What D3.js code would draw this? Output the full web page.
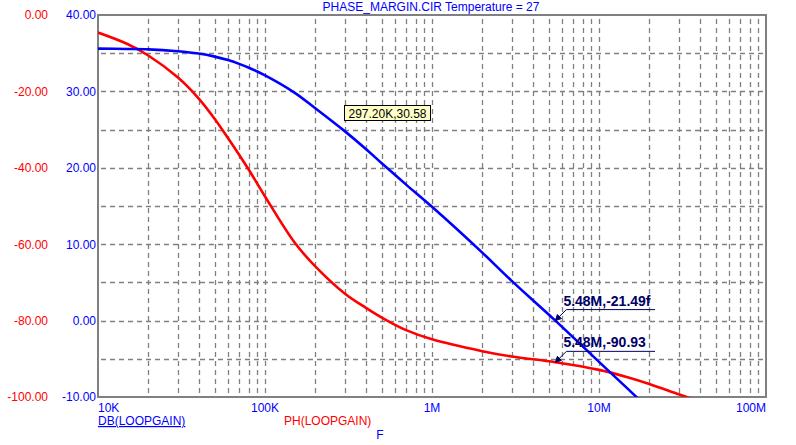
<!DOCTYPE html>
<html>
<head>
<meta charset="utf-8">
<script src="https://cdn.jsdelivr.net/npm/d3@7"></script>
<style>
  body { margin: 0; background: #fff; }
  text { font-family: "Liberation Sans", Arial, sans-serif; }
</style>
</head>
<body>
<div id="chart"></div>
<script>
// frequency points (Hz) shared by both traces
var freqs = [1e4, 1.5e4, 2e4, 3e4, 4e4, 5e4, 6e4, 7e4, 8e4, 1e5, 1.5e5, 2e5, 3e5, 4e5, 5e5, 7e5,
  1e6, 2e6, 3e6, 5.48e6, 1e7, 1.5e7, 2e7, 3e7, 4e7];
// DB(LOOPGAIN)
var gainDb = [35.6, 35.55, 35.5, 35.25, 34.95, 34.55, 34.1, 33.6, 33.1, 32.1, 29.85, 27.8, 24.8, 22.5, 20.6, 17.8,
  14.9, 8.9, 5.2, 0.0, -5.4, -9.0, -11.6, -15.4, -18.0];
// PH(LOOPGAIN)
var phaseDeg = [-4.6, -7.6, -10.6, -16.3, -21.8, -27.2, -32.2, -36.6, -40.5, -47.5, -59.5, -65.8, -72.9, -76.6, -79.2, -82.5,
  -84.9, -88.0, -89.4, -90.9, -92.9, -94.9, -96.6, -99.3, -101.2];

var dbTicks = [40, 30, 20, 10, 0, -10];
var phTicks = [0, -20, -40, -60, -80, -100];
var xTicks = [1e4, 1e5, 1e6, 1e7, 1e8];
var xTickLabels = ["10K", "100K", "1M", "10M", "100M"];

var W = 796, H = 445,
  pL = 98, pR = 766, pT = 15, pB = 397;

var svg = d3.select("#chart").append("svg")
  .attr("width", W)
  .attr("height", H);

var x = d3.scaleLog().domain([1e4, 1e8]).range([pL, pR]),
  yDb = d3.scaleLinear().domain([-10, 40]).range([pB, pT]),
  yPh = d3.scaleLinear().domain([-100, 0]).range([pB, pT]);

var fmt = d3.formatLocale({decimal: ".", thousands: ",", grouping: [3], currency: ["", ""], minus: "-"}).format(".2f");

svg.append("defs").append("clipPath").attr("id", "plotclip")
  .append("rect")
  .attr("x", pL).attr("y", pT)
  .attr("width", pR - pL).attr("height", pB - pT);

//网格
var vGrid = [];
[1e4, 1e5, 1e6, 1e7].forEach(function (dec) {
  for (var m = 1; m < 10; m++) {
    if (dec * m > 1e4) vGrid.push(dec * m);
  }
});

var grid = svg.append("g")
  .attr("stroke", "#808080")
  .attr("stroke-width", 1.3)
  .attr("stroke-dasharray", "5,4");

grid.selectAll("line.v")
  .data(vGrid)
  .enter().append("line")
  .attr("class", "v")
  .attr("x1", function (d) { return Math.round(x(d)) + 0.5; })
  .attr("x2", function (d) { return Math.round(x(d)) + 0.5; })
  .attr("y1", pT + 4)
  .attr("y2", pB);

grid.selectAll("line.h")
  .data(d3.range(-5, 40, 5))
  .enter().append("line")
  .attr("class", "h")
  .attr("x1", pL + 3)
  .attr("x2", pR)
  .attr("y1", function (d) { return Math.round(yDb(d)) + 0.5; })
  .attr("y2", function (d) { return Math.round(yDb(d)) + 0.5; });

// frame
svg.append("path")
  .attr("d", "M" + pL + "," + pT + "H" + pR + "V" + pB + "H" + pL + "Z")
  .attr("fill", "none")
  .attr("stroke", "#808080")
  .attr("stroke-width", 2);

// y axes (labels only)
var axDb = svg.append("g")
  .attr("transform", "translate(" + (pL - 2) + ",0)")
  .call(d3.axisLeft(yDb).tickValues(dbTicks).tickSize(0).tickFormat(fmt));
var axPh = svg.append("g")
  .attr("transform", "translate(48,0)")
  .call(d3.axisLeft(yPh).tickValues(phTicks).tickSize(0).tickFormat(fmt));

[axDb, axPh].forEach(function (ax, i) {
  ax.select(".domain").remove();
  ax.selectAll("text")
    .attr("x", 0)
    .attr("fill", i === 0 ? "#0000ff" : "#ff0000")
    .style("font-size", "12px")
    .style("font-family", "'Liberation Sans', Arial, sans-serif");
});

// x axis labels
svg.append("g").selectAll("text")
  .data(xTicks)
  .enter().append("text")
  .attr("x", function (d) { return x(d); })
  .attr("y", 412)
  .attr("text-anchor", function (d, i) { return i === 0 ? "start" : (i === xTicks.length - 1 ? "end" : "middle"); })
  .attr("fill", "#0000ff")
  .style("font-size", "12px")
  .text(function (d, i) { return xTickLabels[i]; });

//曲线
var line = function (ys, yScale) {
  return d3.line()
    .x(function (d, i) { return x(freqs[i]); })
    .y(function (d) { return yScale(d); })
    .curve(d3.curveCatmullRom.alpha(0.5))(ys);
};

var plot = svg.append("g").attr("clip-path", "url(#plotclip)");

plot.append("path")
  .attr("d", line(phaseDeg, yPh))
  .attr("fill", "none")
  .attr("stroke", "#ff0000")
  .attr("stroke-width", 2.6);

plot.append("path")
  .attr("d", line(gainDb, yDb))
  .attr("fill", "none")
  .attr("stroke", "#0000ff")
  .attr("stroke-width", 2.6);

// title
svg.append("text")
  .attr("x", 431)
  .attr("y", 11)
  .attr("text-anchor", "middle")
  .attr("fill", "#0000ff")
  .style("font-size", "12px")
  .text("PHASE_MARGIN.CIR Temperature = 27");

// trace names
svg.append("text")
  .attr("x", pL)
  .attr("y", 425)
  .attr("fill", "#0000ff")
  .attr("text-decoration", "underline")
  .style("font-size", "12px")
  .text("DB(LOOPGAIN)");
svg.append("text")
  .attr("x", 284)
  .attr("y", 425)
  .attr("fill", "#ff0000")
  .style("font-size", "12px")
  .text("PH(LOOPGAIN)");
svg.append("text")
  .attr("x", 380)
  .attr("y", 439)
  .attr("text-anchor", "middle")
  .attr("fill", "#0000ff")
  .style("font-size", "12px")
  .text("F");

// cursor box
var box = svg.append("g");
box.append("rect")
  .attr("x", 344.5).attr("y", 105.5)
  .attr("width", 86).attr("height", 15)
  .attr("fill", "#ffffc8")
  .attr("stroke", "#000")
  .attr("stroke-width", 1);
box.append("text")
  .attr("x", 387.5).attr("y", 117.5)
  .attr("text-anchor", "middle")
  .attr("fill", "#000")
  .style("font-size", "12px")
  .text("297.20K,30.58");

// marker labels
var marks = [
  {f: 5.48e6, y: yDb(0), label: "5.48M,-21.49f"},
  {f: 5.48e6, y: yPh(-90.93), label: "5.48M,-90.93"}
];
var mk = svg.append("g").attr("fill", "#000066").attr("stroke", "#000066");
marks.forEach(function (m) {
  var tx = x(m.f), ty = m.y, ly = ty - 11;
  mk.append("path")
    .attr("d", "M" + (tx + 11) + "," + ly + "H" + 655 + "M" + (tx + 11) + "," + ly + "L" + (tx + 1) + "," + (ty - 1))
    .attr("fill", "none")
    .attr("stroke-width", 1);
  mk.append("path")
    .attr("d", "M" + tx + "," + ty + "l6,-2l-4,-4z")
    .attr("stroke-width", 1);
  mk.append("text")
    .attr("x", tx + 8)
    .attr("y", ly - 4)
    .attr("stroke", "none")
    .style("font-size", "14px")
    .style("font-weight", "bold")
    .text(m.label);
});
</script>
</body>
</html>
